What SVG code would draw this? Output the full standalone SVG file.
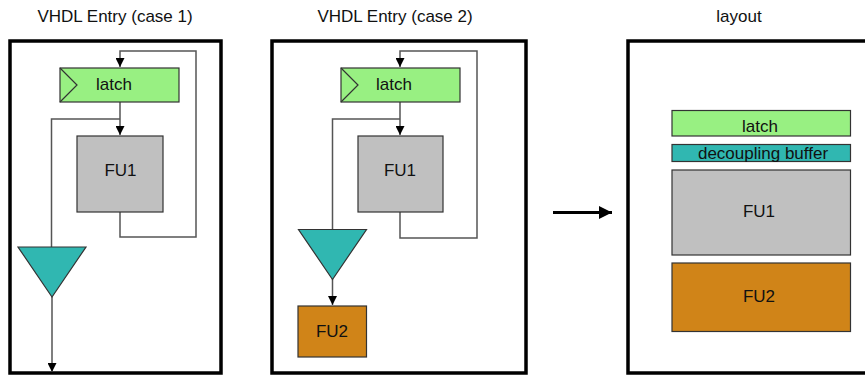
<svg xmlns="http://www.w3.org/2000/svg" width="865" height="378" viewBox="0 0 865 378">
<defs>
<style>
text{font-family:"Liberation Sans",Arial,sans-serif;font-size:17px;fill:#111;text-anchor:middle}
.frame{fill:#fff;stroke:#000;stroke-width:3.5}
.latch{fill:#98F082;stroke:#333;stroke-width:1.2}
.buf{fill:#30B7B1;stroke:#333;stroke-width:1.2}
.fu1{fill:#C0C0C0;stroke:#333;stroke-width:1.2}
.fu2{fill:#D08418;stroke:#333;stroke-width:1.2}
.wire{fill:none;stroke:#555;stroke-width:1.5}
</style>
<marker id="ah" viewBox="0 0 10 10" refX="10" refY="5" markerWidth="9" markerHeight="9" markerUnits="userSpaceOnUse" orient="auto"><path d="M0,0 L10,5 L0,10 z" fill="#000"/></marker>
<marker id="bh" viewBox="0 0 10 10" refX="10" refY="5" markerWidth="13" markerHeight="13" markerUnits="userSpaceOnUse" orient="auto"><path d="M0,0 L10,5 L0,10 z" fill="#000"/></marker>
</defs>
<g id="titles">
<text x="115" y="22">VHDL Entry (case 1)</text>
<text x="395" y="22">VHDL Entry (case 2)</text>
<text x="739" y="22">layout</text>
</g>
<g id="frame1"><rect class="frame" x="10" y="41" width="211" height="332"/></g>
<g id="frame2"><rect class="frame" x="272" y="41" width="254" height="332"/></g>
<g id="frame3"><rect class="frame" x="628" y="41" width="245" height="332"/></g>
<g id="connectors">
<path class="wire" d="M120,212 V237 H196 V51 H120 V67" marker-end="url(#ah)"/>
<path class="wire" d="M120,102 V135" marker-end="url(#ah)"/>
<path class="wire" d="M120,119 H51.5 V247"/>
<path class="wire" d="M52,297 V372" marker-end="url(#ah)"/>
<path class="wire" d="M400,212 V238 H477 V51 H400 V67" marker-end="url(#ah)"/>
<path class="wire" d="M400,102 V135" marker-end="url(#ah)"/>
<path class="wire" d="M400,119 H332.5 V229"/>
<path class="wire" d="M332.5,279 V305" marker-end="url(#ah)"/>
<path d="M553,212.5 H612" fill="none" stroke="#000" stroke-width="3" marker-end="url(#bh)"/>
</g>
<g id="latch1"><rect class="latch" x="60" y="68" width="119" height="34"/><path d="M60,68 L77,85 L60,102" fill="none" stroke="#333" stroke-width="1.2"/><text x="114" y="90">latch</text></g>
<g id="fu1_1"><rect class="fu1" x="77" y="136" width="86" height="76"/><text x="120.5" y="176">FU1</text></g>
<g id="buf1"><path class="buf" d="M18,247 H86 L52,297 z"/></g>
<g id="latch2"><rect class="latch" x="341" y="68" width="119" height="34"/><path d="M341,68 L358,85 L341,102" fill="none" stroke="#333" stroke-width="1.2"/><text x="394" y="90">latch</text></g>
<g id="fu1_2"><rect class="fu1" x="358" y="136" width="85" height="76"/><text x="400" y="176">FU1</text></g>
<g id="buf2"><path class="buf" d="M298.5,229.5 H366.5 L332.5,279.5 z"/></g>
<g id="fu2_2"><rect class="fu2" x="298" y="306" width="68.5" height="51"/><text x="332" y="337">FU2</text></g>
<g id="latch3"><rect class="latch" x="672" y="110.5" width="178.5" height="25.5"/><text x="760" y="132">latch</text></g>
<g id="buf3"><rect class="buf" x="672" y="144.5" width="178.5" height="17"/><text x="763" y="159">decoupling buffer</text></g>
<g id="fu1_3"><rect class="fu1" x="672" y="170" width="178.5" height="85"/><text x="759" y="217">FU1</text></g>
<g id="fu2_3"><rect class="fu2" x="672" y="263" width="178.5" height="68.5"/><text x="759" y="302">FU2</text></g>
</svg>
